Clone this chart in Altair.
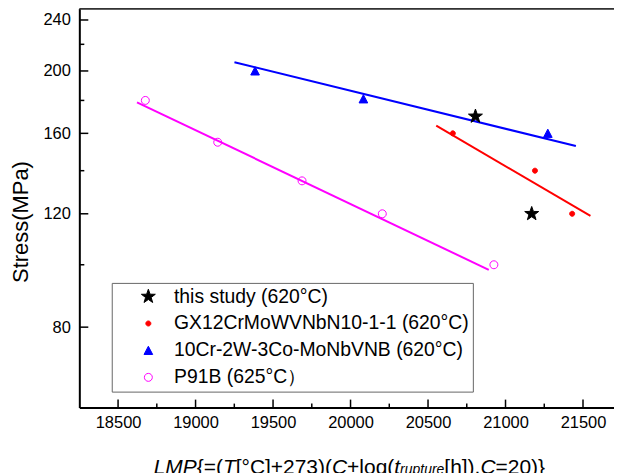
import math
import altair as alt
import pandas as pd

# ---------------- data ----------------
series_names = ["this study (620°C)", "GX12CrMoWVNbN10-1-1 (620°C)",
                "10Cr-2W-3Co-MoNbVNB (620°C)", "P91B (625°C）"]

star_lmp = [20806, 21169]
star_stress = [170, 120]
gx_lmp = [20660, 21190, 21430]
gx_stress = [160, 140, 120]
cr_lmp = [19384, 20083, 21273]
cr_stress = [200, 181, 160]
p91_lmp = [18676, 19143, 19687, 20205, 20925]
p91_stress = [180, 155, 135, 120, 100]

# fitted lines: end points
gx_fit_lmp = [20553, 21548]
gx_fit_stress = [164.5, 119.1]
cr_fit_lmp = [19251, 21454]
cr_fit_stress = [206.3, 152.9]
p91_fit_lmp = [18622, 20892]
p91_fit_stress = [178.8, 98.2]

x_major = [18500, 19000, 19500, 20000, 20500, 21000, 21500]
x_minor = [18750, 19250, 19750, 20250, 20750, 21250]
y_major = [80, 120, 160, 200, 240]
y_minor = [100, 140, 180, 220]

# ---------------- styling ----------------
W, H = 536, 400
FONT = "Liberation Sans"
SYM = 196  # common symbol size; shapes below carry their own relative scale
series_fill = ["#000000", "#ff0000", "#0000ff", "transparent"]
series_stroke = ["#000000", "#ff0000", "#0000ff", "#ff00ff"]


def circle_path(r):
    return (f"M{-r},0 A{r},{r} 0 1,0 {r},0 A{r},{r} 0 1,0 {-r},0 Z")


star = []
for i in range(10):
    a = math.radians(-90 + 36 * i)
    rr = 1.05 if i % 2 == 0 else 0.42
    star.append(f"{rr * math.cos(a):.4f},{rr * math.sin(a):.4f}")
star_path = "M" + " L".join(star) + " Z"
dot_path = circle_path(0.36)
tri_path = "M0,-0.6 L0.62,0.58 L-0.62,0.58 Z"
ring_path = circle_path(0.57)
series_shape = [star_path, dot_path, tri_path, ring_path]

pts = []
for r, s in zip(star_lmp, star_stress):
    pts.append({"lmp": r, "stress": s, "series": series_names[0]})
for r, s in zip(gx_lmp, gx_stress):
    pts.append({"lmp": r, "stress": s, "series": series_names[1]})
for r, s in zip(cr_lmp, cr_stress):
    pts.append({"lmp": r, "stress": s, "series": series_names[2]})
for r, s in zip(p91_lmp, p91_stress):
    pts.append({"lmp": r, "stress": s, "series": series_names[3]})
pts = pd.DataFrame(pts)

fit = []
for name, xs, ys in [(series_names[1], gx_fit_lmp, gx_fit_stress),
                     (series_names[2], cr_fit_lmp, cr_fit_stress),
                     (series_names[3], p91_fit_lmp, p91_fit_stress)]:
    for r, s in zip(xs, ys):
        fit.append({"lmp": r, "stress": s, "series": name})
fit = pd.DataFrame(fit)

xscale = alt.Scale(domain=[18250, 21700], nice=False, zero=False)
yscale = alt.Scale(type="log", domain=[60, 250], nice=False)

lines = alt.Chart(fit).mark_line(strokeWidth=2).encode(
    x=alt.X("lmp:Q", scale=xscale,
            axis=alt.Axis(values=x_major, format="d", ticks=False, grid=False,
                          domainColor="black", domainWidth=2,
                          labelFont=FONT, labelFontSize=16.5, labelColor="black",
                          labelPadding=7, title=None)),
    y=alt.Y("stress:Q", scale=yscale,
            axis=alt.Axis(values=y_major, format="d", ticks=False, grid=False,
                          domainColor="black", domainWidth=2,
                          labelFont=FONT, labelFontSize=16.5, labelColor="black",
                          labelPadding=9, title="Stress(MPa)",
                          titleFont=FONT, titleFontSize=22, titleFontWeight="normal",
                          titleColor="black", titleX=-46.5, titleY=213.5)),
    color=alt.Color("series:N", scale=alt.Scale(domain=series_names[1:],
                                                range=series_stroke[1:]), legend=None),
)

points = alt.Chart(pts).mark_point(strokeWidth=1, opacity=1, size=SYM).encode(
    x="lmp:Q",
    y="stress:Q",
    shape=alt.Shape("series:N", scale=alt.Scale(domain=series_names, range=series_shape), title=None),
    fill=alt.Fill("series:N", scale=alt.Scale(domain=series_names, range=series_fill), title=None),
    stroke=alt.Stroke("series:N", scale=alt.Scale(domain=series_names, range=series_stroke), title=None),
)

xt_major = alt.Chart(pd.DataFrame({"lmp": x_major})).mark_rule(color="black", strokeWidth=1.5).encode(
    x="lmp:Q", y=alt.value(H), y2=alt.value(H - 8))
xt_minor = alt.Chart(pd.DataFrame({"lmp": x_minor})).mark_rule(color="black", strokeWidth=1.5).encode(
    x="lmp:Q", y=alt.value(H), y2=alt.value(H - 4))
yt_major = alt.Chart(pd.DataFrame({"stress": y_major})).mark_rule(color="black", strokeWidth=1.5).encode(
    y="stress:Q", x=alt.value(0), x2=alt.value(9))
yt_minor = alt.Chart(pd.DataFrame({"stress": y_minor})).mark_rule(color="black", strokeWidth=1.5).encode(
    y="stress:Q", x=alt.value(0), x2=alt.value(5))

top_line = alt.Chart(pd.DataFrame({"a": [0]})).mark_rule(color="#333333", strokeWidth=2.5).encode(
    x=alt.value(0), x2=alt.value(W), y=alt.value(0))

# x-axis title with mixed italic / subscript pieces
CW = {'L': .556, 'M': .833, 'P': .667, '{': .334, '=': .584, '(': .333, 'T': .611,
      '[': .278, '°': .4, 'C': .722, ']': .278, '+': .584, '2': .556, '7': .556,
      '3': .556, ')': .333, 'l': .222, 'o': .556, 'g': .556, 't': .278, 'r': .333,
      'u': .556, 'p': .556, 'e': .556, 'h': .556, ',': .278, '0': .556, '}': .334}
segments = [("LMP", True, False), ("{=(", False, False), ("T", True, False),
            ("[°C]+273)(", False, False), ("C", True, False), ("+log(", False, False),
            ("t", True, False), ("rupture", True, True), ("[h]),", False, False),
            ("C", True, False), ("=20)}", False, False)]
title_layers = []
px = 74.5
for txt, ital, sub in segments:
    fs = 14 if sub else 21
    py = 466.5 if sub else 467
    title_layers.append(
        alt.Chart(pd.DataFrame({"t": [txt]})).mark_text(
            align="left", baseline="alphabetic", font=FONT, fontSize=fs,
            fontStyle="italic" if ital else "normal", color="black"
        ).encode(text="t:N", x=alt.value(px), y=alt.value(py))
    )
    px += sum(CW.get(c, 0.556) for c in txt) * fs

chart = alt.layer(lines, points, xt_major, xt_minor, yt_major, yt_minor, top_line,
                  *title_layers).properties(
    width=W, height=H,
    padding={"left": 71.5, "top": 0, "right": 0, "bottom": 65},
    autosize=alt.AutoSizeParams(type="none"),
).configure_view(stroke=None).configure(background="white").configure_legend(
    orient="none", legendX=32.5, legendY=275, strokeColor="#666666", padding=4,
    labelFont=FONT, labelFontSize=19.4, labelColor="black", labelLimit=600,
    rowPadding=6, symbolOffset=23, labelOffset=16, symbolStrokeWidth=1,
    symbolSize=SYM,
)

chart.save("out.html", embed_options={"renderer": "svg", "actions": False})
